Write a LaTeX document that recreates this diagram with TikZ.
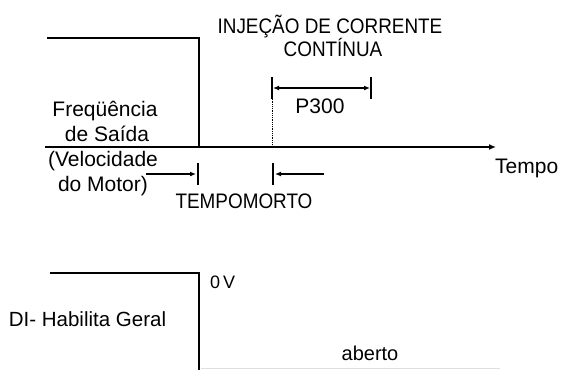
\documentclass[tikz,border=0pt]{standalone}
\usepackage{fontspec}
\setmainfont{Liberation Sans}
\usetikzlibrary{arrows.meta}
\begin{document}
\begin{tikzpicture}[x=1pt,y=-1pt,
  lbl/.style={inner sep=0pt,anchor=base,font=\fontsize{21}{24}\selectfont},
  cond/.style={lbl,xscale=0.9},
  sig/.style={line width=2.2pt},
  tick/.style={line width=1.3pt},
  arr/.style={line width=1.8pt,-{Latex[length=6pt,width=5pt]}}]
\useasboundingbox (0,0) rectangle (561,370);
% coordinates
\coordinate (t0) at (47,38);
\coordinate (t1) at (199,38);
\coordinate (t2) at (199,147);
\coordinate (ax0) at (45,147);
\coordinate (ax1) at (496,147);
\coordinate (d0) at (272,97);
\coordinate (d1) at (272,147);
\coordinate (pa0) at (272,77);
\coordinate (pa1) at (272,99);
\coordinate (pb0) at (371,77);
\coordinate (pb1) at (371,99);
\coordinate (pl) at (273,88);
\coordinate (pr) at (370,88);
\coordinate (ka0) at (198,163);
\coordinate (ka1) at (198,185);
\coordinate (kb0) at (273,163);
\coordinate (kb1) at (273,185);
\coordinate (a1s) at (146,174);
\coordinate (a1e) at (196,174);
\coordinate (a2s) at (324,174);
\coordinate (a2e) at (275,174);
\coordinate (b0) at (50,273);
\coordinate (b1) at (199,273);
\coordinate (b2) at (199,370);
\coordinate (f0) at (201,368.5);
\coordinate (f1) at (500,368.5);
% texts
\node[cond] (inj) at (330,33.3) {INJEÇÃO DE CORRENTE};
\node[cond] (cont) at (333,56.7) {CONTÍNUA};
\node[lbl] (p300) at (320,113) {P300};
\node[lbl] (fr1) at (105,116.7) {Freqüência};
\node[lbl] (fr2) at (107,141.7) {de Saída};
\node[lbl] (fr3) at (103,166.7) {(Velocidade};
\node[lbl] (fr4) at (103,191.7) {do Motor)};
\node[lbl,anchor=base west] (tempo) at (495,173.3) {Tempo};
\node[cond] (tm) at (244,208.3) {TEMPOMORTO};
\node[lbl,anchor=base west,font=\fontsize{18}{20}\selectfont] (ov) at (210,288) {0\,V};
\node[lbl,font=\fontsize{20.5}{24}\selectfont] (di) at (87.5,326.7) {DI- Habilita Geral};
\node[lbl,font=\fontsize{20}{24}\selectfont] (ab) at (370,360.7) {aberto};
% drawing
\draw[sig] (t0) -- (t1) -- (t2);
\draw[line width=1.5pt,-{Latex[length=7pt,width=6pt]}] (ax0) -- (ax1);
\draw[densely dotted,line width=0.8pt] (d0) -- (d1);
\draw[tick] (pa0) -- (pa1);
\draw[tick] (pb0) -- (pb1);
\draw[line width=1.8pt,{Latex[length=6pt,width=5pt]}-{Latex[length=6pt,width=5pt]}] (pl) -- (pr);
\draw[tick] (ka0) -- (ka1);
\draw[tick] (kb0) -- (kb1);
\draw[arr] (a1s) -- (a1e);
\draw[arr] (a2s) -- (a2e);
\draw[sig] (b0) -- (b1) -- (b2);
\draw[gray!25,line width=1pt] (f0) -- (f1);
\end{tikzpicture}
\end{document}
